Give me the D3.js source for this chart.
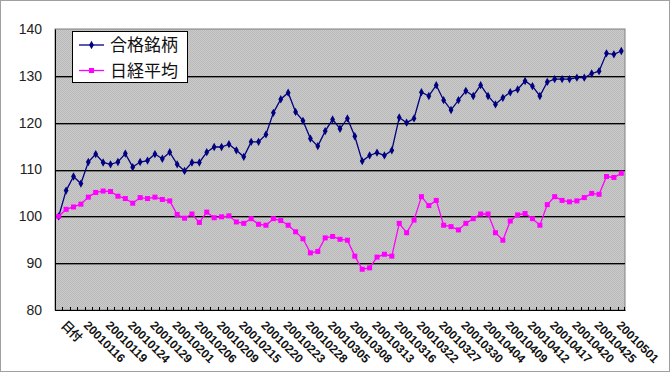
<!DOCTYPE html>
<html><head><meta charset="utf-8">
<script src="https://cdn.jsdelivr.net/npm/d3@7"></script>
<style>html,body{margin:0;padding:0;background:#fff;}svg{display:block;}</style>
</head><body>
<script>
const categories = ['日付','20010112','20010115','20010116','20010117','20010118','20010119','20010122','20010123','20010124','20010125','20010126','20010129','20010130','20010131','20010201','20010202','20010205','20010206','20010207','20010208','20010209','20010213','20010214','20010215','20010216','20010219','20010220','20010221','20010222','20010223','20010226','20010227','20010228','20010301','20010302','20010305','20010306','20010307','20010308','20010309','20010312','20010313','20010314','20010315','20010316','20010319','20010321','20010322','20010323','20010326','20010327','20010328','20010329','20010330','20010402','20010403','20010404','20010405','20010406','20010409','20010410','20010411','20010412','20010413','20010416','20010417','20010418','20010419','20010420','20010423','20010424','20010425','20010426','20010427','20010501','20010502'];
const tickLabels = ['日付','20010116','20010119','20010124','20010129','20010201','20010206','20010209','20010215','20010220','20010223','20010228','20010305','20010308','20010313','20010316','20010322','20010327','20010330','20010404','20010409','20010412','20010417','20010420','20010425','20010501'];
const seriesNames = ['合格銘柄','日経平均'];
const goukaku = [100,105.5,108.5,107,111.6,113.3,111.5,111.1,111.6,113.4,110.5,111.6,111.9,113.3,112.3,113.7,111.1,109.7,111.5,111.5,113.7,114.8,114.8,115.4,114.1,112.7,115.9,115.9,117.5,122.1,125,126.4,122.3,120.4,116.6,115,118.2,120.7,118.7,120.9,117.1,111.8,113,113.6,113,114.1,121.1,120,120.9,126.5,125.7,128,124.8,122.7,124.8,126.8,125.7,128,125.7,123.9,125.3,126.5,127.1,128.9,127.8,125.7,128.7,129.3,129.3,129.3,129.6,129.6,130.5,131,134.8,134.6,135.3];
const nikkei = [100,101.5,102,102.6,104.1,105.1,105.4,105.3,104.3,103.8,102.8,104,103.8,104.1,103.6,103.3,100.4,99.6,100.5,98.7,100.9,99.7,99.9,100.1,98.8,98.5,99.5,98.3,98.1,99.5,99.1,98.1,96.7,95.2,92.2,92.5,95.4,95.7,95.1,94.9,91.5,88.7,89,91.3,91.9,91.5,98.5,96.5,99.2,104.2,102.3,103.4,98.1,97.8,97.1,98.5,99.5,100.5,100.5,96.5,94.9,99,100.3,100.6,99.5,98.1,102.5,104.2,103.4,103.1,103.3,104,104.9,104.7,108.5,108.3,109.2];
const yTicks = [80,90,100,110,120,130,140];

const W = 671, H = 375;
const L = 55, R = 625, T = 29, B = 310;
const svg = d3.select('body').append('svg').attr('width', W).attr('height', H);

// chart area border
svg.append('rect').attr('x',0.5).attr('y',0.5).attr('width',669).attr('height',371)
  .attr('fill','#fff').attr('stroke','#a0a0a0');

// dither pattern
const defs = svg.append('defs');
const pat = defs.append('pattern').attr('id','dith').attr('width',2).attr('height',2).attr('patternUnits','userSpaceOnUse');
pat.append('rect').attr('width',2).attr('height',2).attr('fill','#cbcbcb');
pat.append('rect').attr('width',1).attr('height',1).attr('fill','#b9b9b9');
pat.append('rect').attr('x',1).attr('y',1).attr('width',1).attr('height',1).attr('fill','#b9b9b9');

const x = d3.scalePoint().domain(categories).range([L, R]).padding(0.5);
const y = d3.scaleLinear().domain([80,140]).range([B, T]);

svg.append('rect').attr('x',L).attr('y',T).attr('width',R-L).attr('height',B-T)
  .attr('fill','url(#dith)').attr('stroke','#808080');

// gridlines
const g = svg.append('g');
yTicks.filter(v => v > 80 && v < 140).forEach(v => {
  g.append('line').attr('x1',L).attr('x2',R).attr('y1',Math.round(y(v))+0.5).attr('y2',Math.round(y(v))+0.5).attr('stroke','#000');
  g.append('line').attr('x1',L).attr('x2',R).attr('y1',Math.round(y(v))+1.5).attr('y2',Math.round(y(v))+1.5).attr('stroke','#7a7a7a');
});

// y axis
const yAxis = d3.axisLeft(y).tickValues(yTicks).tickSize(0).tickPadding(13).tickFormat(d3.format('d'));
const ya = svg.append('g').attr('transform',`translate(${L},0)`).call(yAxis);
ya.select('.domain').attr('stroke','#000');
ya.selectAll('text').attr('font-family','Liberation Sans, Arial, sans-serif').attr('font-size',14).attr('fill','#222');

// x axis
const step = x.step();
const xAxis = d3.axisBottom(x).tickSize(0).tickFormat('');
const xa = svg.append('g').attr('transform',`translate(0,${B})`).call(xAxis);
xa.select('.domain').attr('stroke','#000');
categories.forEach((c,i) => {
  const bx = Math.round(x(c) - step/2) + 0.5;
  xa.append('line').attr('x1',bx).attr('x2',bx).attr('y1',-3).attr('y2',1).attr('stroke','#000');
});
xa.append('line').attr('x1',R-0.5).attr('x2',R-0.5).attr('y1',-3).attr('y2',1).attr('stroke','#000');

svg.append('g').selectAll('text').data(tickLabels).join('text')
  .attr('transform', d => `translate(${x(d)+2},${B+16}) rotate(45)`)
  .attr('font-family','Liberation Sans, Arial, sans-serif').attr('font-size',12).attr('font-weight','bold')
  .attr('fill','#111').text(d => d);

// lines
const line = d3.line().x((d,i) => x(categories[i])).y(d => y(d));
svg.append('path').datum(goukaku).attr('d',line).attr('fill','none').attr('stroke','#000080').attr('stroke-width',1.3);
svg.append('path').datum(nikkei).attr('d',line).attr('fill','none').attr('stroke','#ff00ff').attr('stroke-width',1.3);

const diamond = d3.symbol().type(d3.symbolDiamond).size(20);
svg.append('g').selectAll('path').data(goukaku).join('path')
  .attr('transform',(d,i) => `translate(${x(categories[i])},${y(d)})`).attr('d',diamond()).attr('fill','#000080');
svg.append('g').selectAll('rect').data(nikkei).join('rect')
  .attr('x',(d,i) => x(categories[i]) - 2.5).attr('y',d => y(d) - 2.5).attr('width',5).attr('height',5).attr('fill','#ff00ff');

// legend
const lg = svg.append('g');
lg.append('rect').attr('x',72.5).attr('y',31.5).attr('width',115).attr('height',51).attr('fill','#fff').attr('stroke','#000');
const colors = ['#000080','#ff00ff'];
seriesNames.forEach((n,i) => {
  const cy = 45 + i*25.5;
  lg.append('line').attr('x1',79).attr('x2',104).attr('y1',cy).attr('y2',cy).attr('stroke',colors[i]).attr('stroke-width',1.3);
  if (i === 0) lg.append('path').attr('transform',`translate(91.5,${cy})`).attr('d',diamond()).attr('fill',colors[i]);
  else lg.append('rect').attr('x',89).attr('y',cy-2.5).attr('width',5).attr('height',5).attr('fill',colors[i]);
  lg.append('text').attr('x',110).attr('y',cy).attr('dy','0.36em').attr('font-family','Noto Sans CJK JP, sans-serif')
    .attr('font-size',17).attr('fill','#111').text(n);
});
</script>
</body></html>
